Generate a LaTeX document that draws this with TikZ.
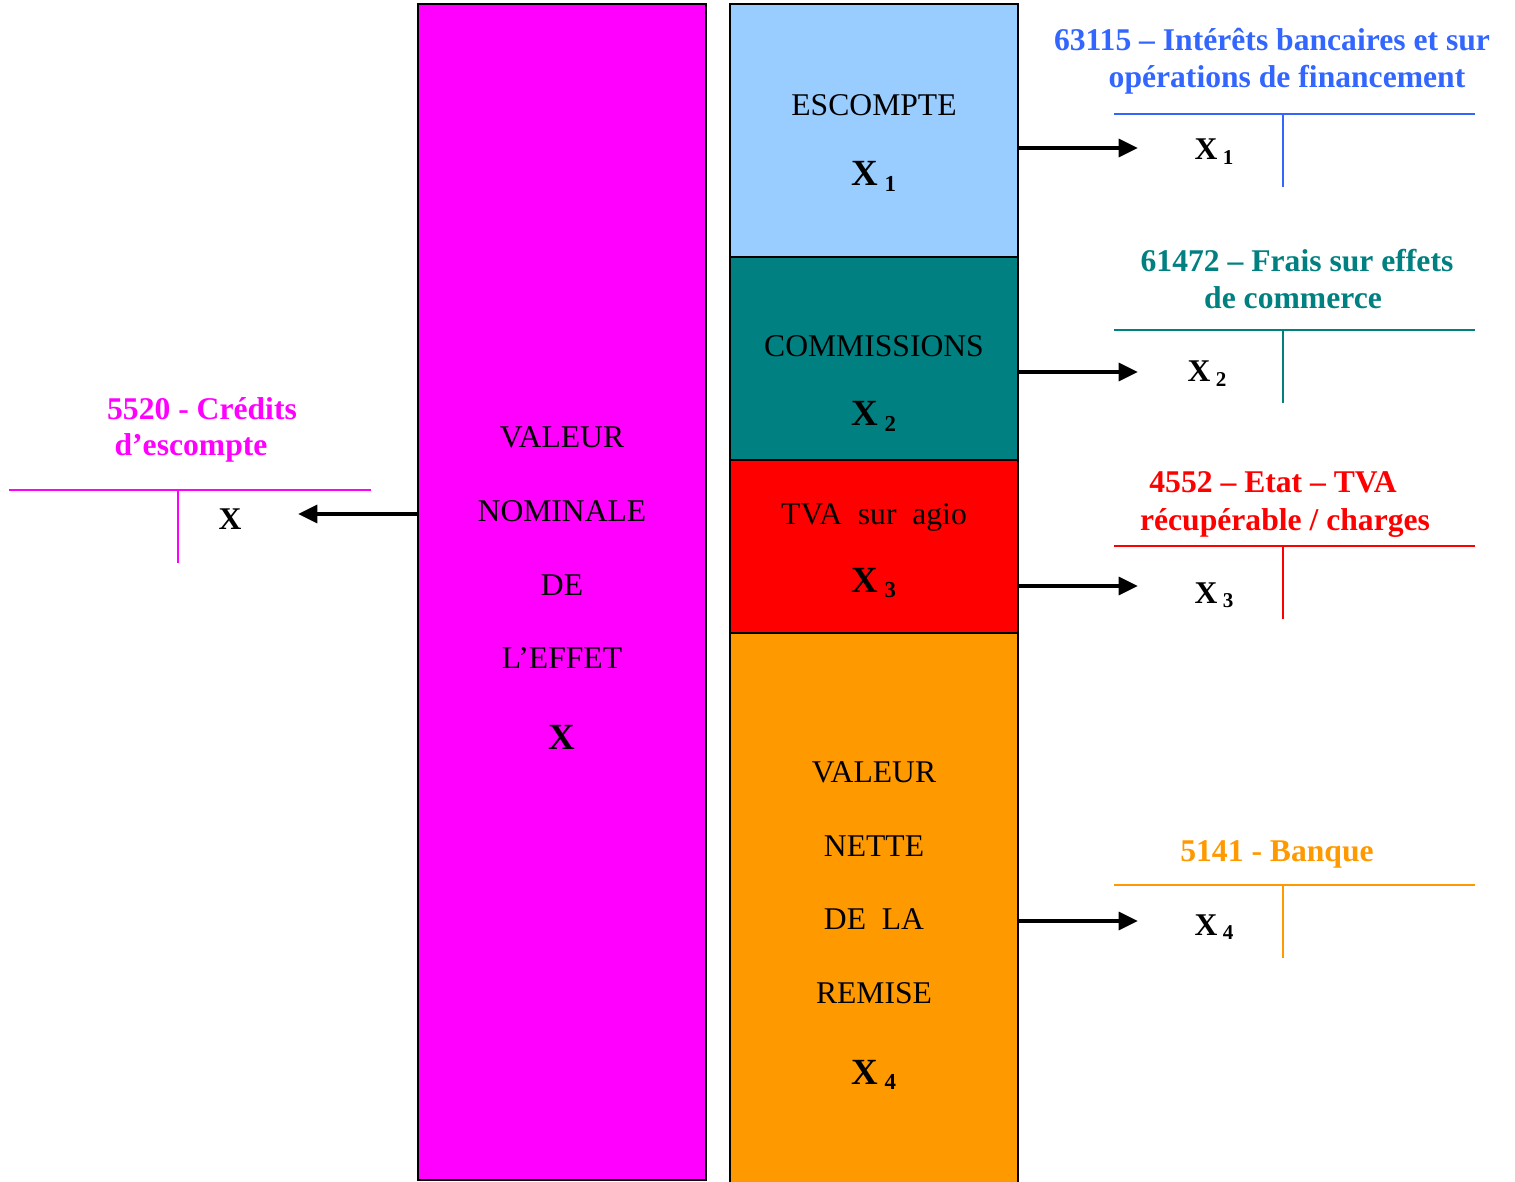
\documentclass[tikz,border=0pt]{standalone}
\usepackage{fontspec}
\setmainfont{Liberation Serif}
\usetikzlibrary{arrows.meta}
\definecolor{cmag}{HTML}{FF00FF}
\definecolor{clblue}{HTML}{99CCFF}
\definecolor{cblue}{HTML}{3366FF}
\definecolor{cteal}{HTML}{008080}
\definecolor{cred}{HTML}{FF0000}
\definecolor{corange}{HTML}{FF9900}
\newcommand{\bigX}[1]{{\fontsize{21}{24}\selectfont\bfseries X\,\raisebox{-0.35ex}{\fontsize{13}{15}\selectfont #1}}}
\newcommand{\accX}[1]{{\fontsize{18}{21}\selectfont\bfseries X\,\raisebox{-0.3ex}{\fontsize{12}{14}\selectfont #1}}}
\tikzset{
  blockbox/.style={draw=black, line width=1.1pt, anchor=north west, inner sep=0pt, outer sep=0pt},
  body/.style={font=\fontsize{18}{21}\selectfont, inner sep=0pt, anchor=base},
  acclabel/.style={font=\fontsize{18}{21}\selectfont\bfseries, inner sep=0pt, anchor=base},
  arr/.style={line width=2.4pt, -{Triangle[length=11pt, width=10pt]}},
  tline/.style={line width=1pt},
}
\begin{document}
\begin{tikzpicture}[x=0.02cm, y=-0.02cm]
\useasboundingbox (0,0) rectangle (1515,1182);
% main boxes
\node[blockbox, fill=cmag, minimum width=5.76cm, minimum height=23.52cm] (nom) at (418,4) {};
\node[blockbox, fill=clblue, minimum width=5.76cm, minimum height=5.06cm] (esc) at (730,4) {};
\node[blockbox, fill=cteal, minimum width=5.76cm, minimum height=4.06cm] (com) at (730,257) {};
\node[blockbox, fill=cred, minimum width=5.76cm, minimum height=3.46cm] (tva) at (730,460) {};
\node[blockbox, fill=corange, minimum width=5.76cm, minimum height=11.4cm] (net) at (730,633) {};
% texts in magenta box
\node[body] (n1) at (562,448) {VALEUR};
\node[body] (n2) at (562,521) {NOMINALE};
\node[body] (n3) at (562,595) {DE};
\node[body] (n4) at (562,668) {L’EFFET};
\node[inner sep=0pt, anchor=base] (n5) at (562,749) {\fontsize{21}{24}\selectfont\bfseries X};
% texts in right column
\node[body] (e1) at (874,116) {ESCOMPTE};
\node[inner sep=0pt, anchor=base] (e2) at (874,186) {\bigX{1}};
\node[body] (c1) at (874,357) {COMMISSIONS};
\node[inner sep=0pt, anchor=base] (c2) at (874,426) {\bigX{2}};
\node[body] (t1) at (874,524) {TVA\ \ sur\ \ agio};
\node[inner sep=0pt, anchor=base] (t2) at (874,592) {\bigX{3}};
\node[body] (v1) at (874,782) {VALEUR};
\node[body] (v2) at (874,856) {NETTE};
\node[body] (v3) at (874,929) {DE\ \ LA};
\node[body] (v4) at (874,1003) {REMISE};
\node[inner sep=0pt, anchor=base] (v5) at (874,1084) {\bigX{4}};
% account 63115
\node[acclabel, text=cblue] (l1a) at (1272,51) {63115 – Intérêts bancaires et sur};
\node[acclabel, text=cblue] (l1b) at (1287,88) {opérations de financement};
\coordinate (h1l) at (1114,114); \coordinate (h1r) at (1475,114);
\coordinate (v1t) at (1283,114); \coordinate (v1b) at (1283,187);
\draw[tline, cblue] (h1l) -- (h1r);
\draw[tline, cblue] (v1t) -- (v1b);
\node[inner sep=0pt, anchor=base] (x1) at (1214,160) {\accX{1}};
\coordinate (a1) at (1138,148);
\draw[arr] (esc.east |- a1) -- (a1);
% account 61472
\node[acclabel, text=cteal] (l2a) at (1297,272) {61472 – Frais sur effets};
\node[acclabel, text=cteal] (l2b) at (1293,309) {de commerce};
\coordinate (h2l) at (1114,330); \coordinate (h2r) at (1475,330);
\coordinate (v2t) at (1283,330); \coordinate (v2b) at (1283,403);
\draw[tline, cteal] (h2l) -- (h2r);
\draw[tline, cteal] (v2t) -- (v2b);
\node[inner sep=0pt, anchor=base] (x2) at (1207,382) {\accX{2}};
\coordinate (a2) at (1138,372);
\draw[arr] (com.east |- a2) -- (a2);
% account 4552
\node[acclabel, text=cred] (l3a) at (1273,493) {4552 – Etat – TVA};
\node[acclabel, text=cred] (l3b) at (1285,530) {récupérable / charges};
\coordinate (h3l) at (1114,546); \coordinate (h3r) at (1475,546);
\coordinate (v3t) at (1283,546); \coordinate (v3b) at (1283,619);
\draw[tline, cred] (h3l) -- (h3r);
\draw[tline, cred] (v3t) -- (v3b);
\node[inner sep=0pt, anchor=base] (x3) at (1214,603) {\accX{3}};
\coordinate (a3) at (1138,586);
\draw[arr] (tva.east |- a3) -- (a3);
% account 5141
\node[acclabel, text=corange] (l4a) at (1277,861) {5141 - Banque};
\coordinate (h4l) at (1114,885); \coordinate (h4r) at (1475,885);
\coordinate (v4t) at (1283,885); \coordinate (v4b) at (1283,958);
\draw[tline, corange] (h4l) -- (h4r);
\draw[tline, corange] (v4t) -- (v4b);
\node[inner sep=0pt, anchor=base] (x4) at (1214,935) {\accX{4}};
\coordinate (a4) at (1138,921);
\draw[arr] (net.east |- a4) -- (a4);
% account 5520
\node[acclabel, text=cmag] (l5a) at (202,419) {5520 - Crédits};
\node[acclabel, text=cmag] (l5b) at (191,456) {d’escompte};
\coordinate (h5l) at (9,490); \coordinate (h5r) at (371,490);
\coordinate (v5t) at (178,490); \coordinate (v5b) at (178,563);
\draw[tline, cmag] (h5l) -- (h5r);
\draw[tline, cmag] (v5t) -- (v5b);
\node[inner sep=0pt, anchor=base] (x5) at (230,529) {\fontsize{18}{21}\selectfont\bfseries X};
\coordinate (a5) at (298,514);
\draw[arr] (nom.west |- a5) -- (a5);
\end{tikzpicture}
\end{document}
